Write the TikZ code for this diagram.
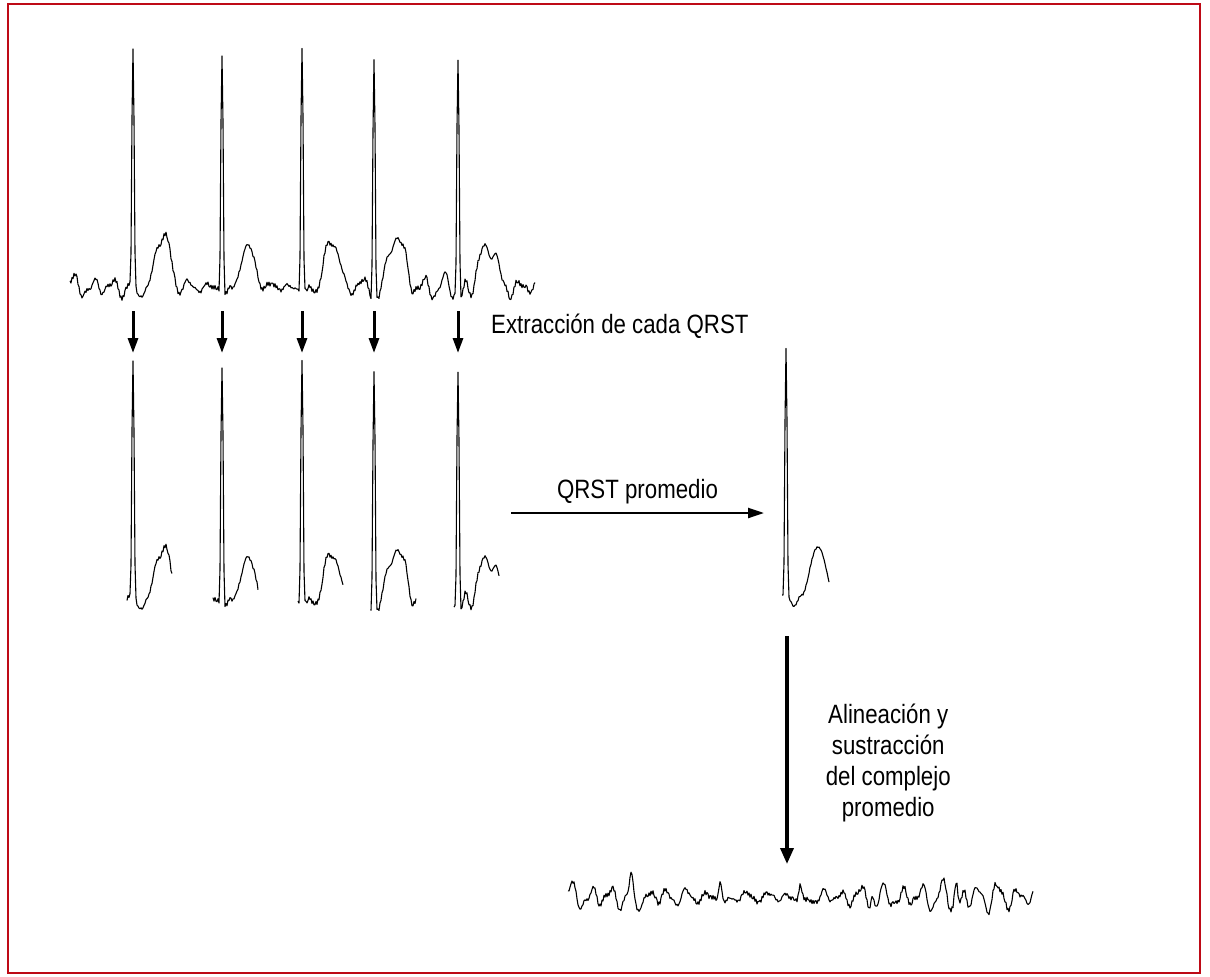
\documentclass[tikz,border=0pt]{standalone}
\usepackage{fontspec}
\setmainfont[FakeStretch=0.84]{Liberation Sans}
\usetikzlibrary{arrows.meta}
\definecolor{framered}{RGB}{190,10,22}

\begin{document}
\begin{tikzpicture}[x=1pt, y=-1pt,
  ecg/.style={line width=1.1pt, line join=round},
  lbl/.style={font=\fontsize{26.5}{31}\selectfont, inner sep=0pt},
  extrarrow/.style={-{Triangle[length=15pt,width=10pt]}, line width=3pt},
  avgarrow/.style={-{Triangle[length=16pt,width=10pt]}, line width=2.3pt},
  subarrow/.style={-{Triangle[length=16pt,width=13pt]}, line width=3.5pt},
  declare function={
    sq(\v)=\v*\v;
    bmp(\pos,\wid)=sq(1-sq(min(abs(\pos)/\wid,1)));
    nz(\v)=sin(97.3*mod(\v,17)+61.7*mod(\v,23)+29.9*mod(\v,7));
    fw(\v)=(8+4*sin(0.9*\v+40))*(0.75*sin(18.5*\v+35*sin(2.3*\v))
      +0.3*sin(36*mod(\v,10)+50)+0.3*sin(12.7*\v+20));
    qrst(\pos,\hr,\ta,\ts)=-\hr*bmp(\pos,2.5)+10*bmp(\pos-4,4)-\ta*bmp(\pos-\ts,16);
    top(\v)=287+fw(\v)+qrst(\v-133,228,51,30)+qrst(\v-222,234,38,26)
      +qrst(\v-302,240,45,30)+qrst(\v-374,238,53,23)+qrst(\v-458,231,45,30)
      +1.8*nz(\v);
    resid(\v)=-14*bmp(\v-133,3)+9*bmp(\v-138,4)-16*bmp(\v-222,3)+9*bmp(\v-227,4)
      -12*bmp(\v-302,3)+10*bmp(\v-307,4)-10*bmp(\v-374,3)+8*bmp(\v-379,4)
      -18*bmp(\v-458,3)+9*bmp(\v-463,4);
    avg(\pos)=-246*bmp(\pos,2.5)+11*bmp(\pos-8,7)-48*bmp(\pos-32,16);
  }]
\useasboundingbox (0,0) rectangle (1210,977);
\draw[framered, line width=2.5pt] (8,4) rectangle (1200,973);

\draw[ecg] plot[domain=70:535, samples=466] (\x,{top(\x)});

\foreach \rx/\lo [count=\i] in {133/127,222/213,302/298,374/371,458/454} {
  \coordinate (top\i) at (\rx,311);
  \coordinate (bot\i) at (\rx,353);
  \draw[extrarrow] (top\i) -- (bot\i);
  \draw[ecg] plot[domain=\lo:\lo+45, samples=46] (\x,{top(\x)+312});
}
\node[lbl, anchor=base west] (extract) at (491,333) {Extracción de cada QRST};

\coordinate (avgfrom) at (511,513);
\coordinate (avgto) at (764,513);
\draw[avgarrow] (avgfrom) -- node[lbl, above=8pt] (avglbl) {QRST promedio} (avgto);

\draw[ecg] plot[domain=-4:43, samples=48] ({786+\x},{595+avg(\x)+0.8*nz(\x+300)});

\coordinate (subfrom) at (787,636);
\coordinate (subto) at (787,864);
\draw[subarrow] (subfrom) -- node[lbl, align=center, right=37pt, pos=0.555] (sublbl)
  {Alineación y\\sustracción\\del complejo\\promedio} (subto);

\draw[ecg] plot[domain=70:535, samples=466] ({\x+498},{897+1.2*fw(\x)+resid(\x)+1.8*nz(\x+11)});
\end{tikzpicture}
\end{document}
